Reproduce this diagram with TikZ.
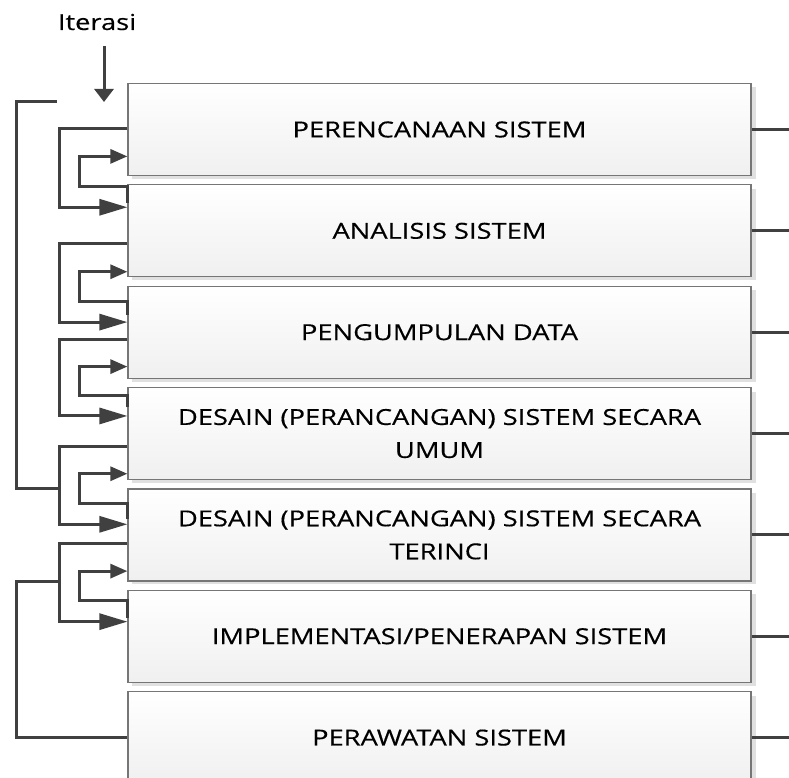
\documentclass[tikz,border=0pt]{standalone}
\usepackage{fontspec}
\setmainfont[FakeStretch=1.24,FakeBold=0.4]{Open Sans}
\usetikzlibrary{arrows.meta}
\definecolor{linec}{HTML}{404040}
\definecolor{boxline}{HTML}{767676}
\definecolor{shadowc}{HTML}{E0E0E0}
\tikzset{
  stagebox/.style={rectangle, draw=boxline, line width=1.2pt, top color=white, bottom color=black!6,
    minimum width=623pt, minimum height=92pt, inner sep=0pt, align=center,
    font=\fontsize{22}{33}\selectfont},
  conn/.style={draw=linec, line width=3pt},
  bigtip/.style={-{Triangle[length=28pt,width=16pt]}},
  smalltip/.style={-{Triangle[length=17pt,width=14pt]}},
  toptip/.style={-{Triangle[length=13pt,width=19pt]}},
}
\begin{document}
\begin{tikzpicture}[x=1pt,y=-1pt]
\useasboundingbox (0,0) rectangle (789,778);
\clip (0,0) rectangle (789,778);
% shadows
\foreach \t in {83.5,184.85,286.2,387.55,488.9,590.25,691.6}{
  \fill[shadowc] (132,\t+4) rectangle (755.5,\t+95.5);
}
\node[stagebox] (b1) at (439.5,129.5) {PERENCANAAN SISTEM};
\node[stagebox] (b2) at (439.5,230.85) {ANALISIS SISTEM};
\node[stagebox] (b3) at (439.5,332.2) {PENGUMPULAN DATA};
\node[stagebox] (b4) at (439.5,433.55) {DESAIN (PERANCANGAN) SISTEM SECARA\\UMUM};
\node[stagebox] (b5) at (439.5,534.9) {DESAIN (PERANCANGAN) SISTEM SECARA\\TERINCI};
\node[stagebox] (b6) at (439.5,636.25) {IMPLEMENTASI/PENERAPAN SISTEM};
\node[stagebox] (b7) at (439.5,737.6) {PERAWATAN SISTEM};
% Iterasi
\node[font=\fontsize{22}{26}\selectfont] (iter) at (97,22) {Iterasi};
\coordinate (itA) at (104,46);
\coordinate (itB) at (104,102);
\draw[conn,toptip] (itA) -- (itB);
% right stubs
\foreach \b in {b1,b2,b3,b4,b5,b6,b7}{
  \draw[conn] (\b.east) -- ++(38,0);
}
% pair 1-2
\draw[conn,bigtip] ([yshift=-45.5pt]b1.north west) -- ++(-68,0) |- ([yshift=-23pt]b2.north west);
\draw[conn,smalltip] ([yshift=-18.5pt]b2.north west) -- ([yshift=-2.5pt]b2.north west) -- ++(-48,0) |- ([yshift=-73.5pt]b1.north west);
% pair 2-3
\draw[conn,bigtip] ([yshift=-59.5pt]b2.north west) -- ++(-68,0) |- ([yshift=-36.5pt]b3.north west);
\draw[conn,smalltip] ([yshift=-29pt]b3.north west) -- ([yshift=-15.5pt]b3.north west) -- ++(-48,0) |- ([yshift=-87.5pt]b2.north west);
% pair 3-4
\draw[conn,bigtip] ([yshift=-54pt]b3.north west) -- ++(-68,0) |- ([yshift=-29pt]b4.north west);
\draw[conn,smalltip] ([yshift=-20.5pt]b4.north west) -- ([yshift=-9pt]b4.north west) -- ++(-48,0) |- ([yshift=-81pt]b3.north west);
% pair 4-5
\draw[conn,bigtip] ([yshift=-60pt]b4.north west) -- ++(-68,0) |- ([yshift=-36pt]b5.north west);
\draw[conn,smalltip] ([yshift=-31pt]b5.north west) -- ([yshift=-15pt]b5.north west) -- ++(-48,0) |- ([yshift=-86.8pt]b4.north west);
% pair 5-6
\draw[conn,bigtip] ([yshift=-55pt]b5.north west) -- ++(-68,0) |- ([yshift=-32pt]b6.north west);
\draw[conn,smalltip] ([yshift=-28pt]b6.north west) -- ([yshift=-10.5pt]b6.north west) -- ++(-48,0) |- ([yshift=-82.8pt]b5.north west);
% outer iteration loop
\coordinate (loopTop) at (57,102);
\coordinate (loopJoinA) at (60,488);
\coordinate (loopJoinB) at (60,581);
\draw[conn] (loopTop) -- (16,102) |- (loopJoinA);
\draw[conn] (loopJoinB) -- (16,581) |- (b7.west);
\end{tikzpicture}
\end{document}
